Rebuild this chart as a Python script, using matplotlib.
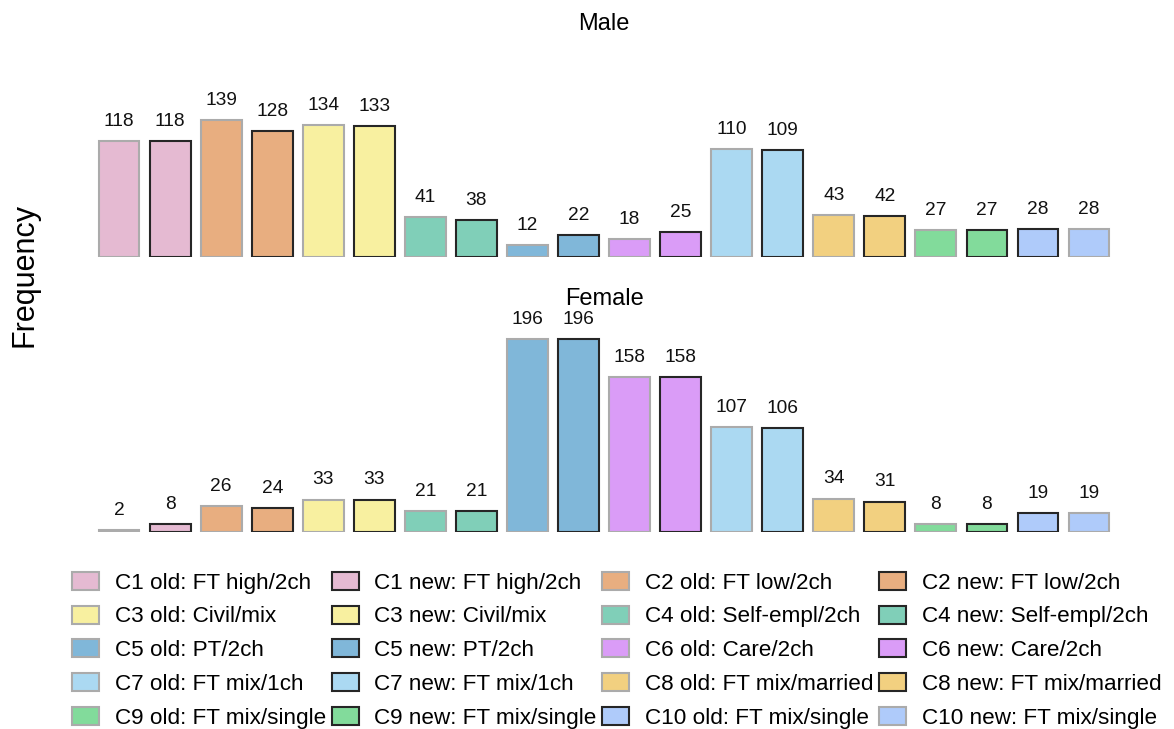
import matplotlib
matplotlib.use("Agg")
import matplotlib.pyplot as plt
from matplotlib.patches import Patch

plt.rcParams['font.family'] = ['Liberation Sans', 'DejaVu Sans']

clusters = ["C1", "C2", "C3", "C4", "C5", "C6", "C7", "C8", "C9", "C10"]
descriptions = ["FT high/2ch", "FT low/2ch", "Civil/mix", "Self-empl/2ch", "PT/2ch",
                "Care/2ch", "FT mix/1ch", "FT mix/married", "FT mix/single", "FT mix/single"]
versions = ["old", "new"]

male_values = [118, 118, 139, 128, 134, 133, 41, 38, 12, 22,
               18, 25, 110, 109, 43, 42, 27, 27, 28, 28]
female_values = [2, 8, 26, 24, 33, 33, 21, 21, 196, 196,
                 158, 158, 107, 106, 34, 31, 8, 8, 19, 19]

cluster_colors = ['#E5BAD2', '#E8AE80', '#F8F0A0', '#80CFB8', '#80B7D9',
                  '#DA9CF7', '#ABD9F2', '#F2D080', '#82DB9B', '#AFCBFA']
GRAY = '#ABABAB'
BLACK = '#262626'
# edge style per bar (old: gray, new: black; C10 swapped as in reference)
edge_colors = []
for i, c in enumerate(clusters):
    if c == "C10":
        edge_colors += [BLACK, GRAY]
    else:
        edge_colors += [GRAY, BLACK]

bar_labels = []
bar_colors = []
for i, c in enumerate(clusters):
    for v in versions:
        bar_labels.append(f"{c} {v}: {descriptions[i]}")
        bar_colors.append(cluster_colors[i])

W, H = 1174, 729
fig = plt.figure(figsize=(W / 100, H / 100), dpi=100)

left = 93.5 / W
width = (1114.6 - 93.5) / W
ax_m = fig.add_axes([left, 1 - 257 / H, width, (257 - 35) / H])
ax_f = fig.add_axes([left, 1 - 532 / H, width, (532 - 310) / H])

x = list(range(len(bar_labels)))
for ax, vals, title in [(ax_m, male_values, "Male"), (ax_f, female_values, "Female")]:
    bars = ax.bar(x, vals, width=0.8, color=bar_colors, edgecolor=edge_colors, linewidth=1.5)
    ax.bar_label(bars, labels=[str(v) for v in vals], padding=8, fontsize=13.8, color='#111111')
    ax.set_xlim(-0.5, len(x) - 0.5)
    ax.set_ylim(0, 226)
    ax.set_title(title, fontsize=17, pad=3)
    ax.axis('off')

fig.text(25 / W, 1 - 275 / H, "Frequency", rotation=90, fontsize=22,
         ha='center', va='center')

handles = [Patch(facecolor=bar_colors[i], edgecolor=edge_colors[i], linewidth=1.5,
                 label=bar_labels[i]) for i in range(len(bar_labels))]
ncol = 4
nrow = len(handles) // ncol
order = []
for col in range(ncol):
    for row in range(nrow):
        order.append(row * ncol + col)
h_ordered = [handles[k] for k in order]
fig.legend(handles=h_ordered, labels=[h.get_label() for h in h_ordered],
           loc='upper left', bbox_to_anchor=(72 / W, 1 - 572 / H), ncol=ncol,
           frameon=False, fontsize=16.2, borderpad=0, borderaxespad=0,
           handlelength=1.2, handleheight=0.85, handletextpad=0.7,
           columnspacing=0.25, labelspacing=0.53)

fig.savefig("out.png", dpi=100)
